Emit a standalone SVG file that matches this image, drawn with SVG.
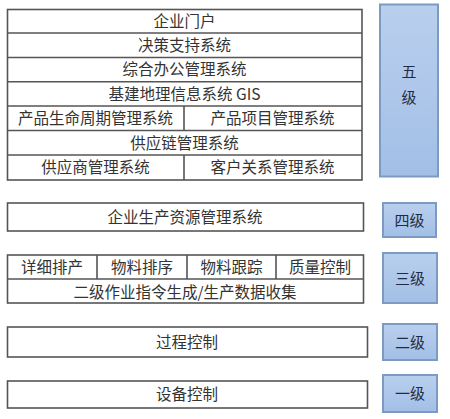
<svg xmlns="http://www.w3.org/2000/svg" width="450" height="419" viewBox="0 0 450 419">
<defs>
<linearGradient id="lv" x1="0" y1="0" x2="0" y2="1">
<stop offset="0" stop-color="#b9cfee"/>
<stop offset="1" stop-color="#a3bfe6"/>
</linearGradient>
<style>
.b{fill:#fff;stroke:#555;stroke-width:1.6}
.l{stroke:#555;stroke-width:1.6;fill:none}
.t{font-family:"Noto Sans CJK SC","Liberation Sans",sans-serif;font-size:15.5px;fill:#333;text-anchor:middle}
.lv{fill:url(#lv);stroke:#7d9ac2;stroke-width:2}
.lt{font-family:"Noto Sans CJK SC",sans-serif;font-size:15px;fill:#1f2d44;text-anchor:middle}
</style>
</defs>
<rect width="450" height="419" fill="#fff"/>
<g id="level5-systems">
<rect class="b" x="7.5" y="9.5" width="354.5" height="170.5"/>
<path class="l" d="M7.5 33H362M7.5 57.5H362M7.5 81.7H362M7.5 106H362M7.5 130.5H362M7.5 155H362M184 106V130.5M184 155V180"/>
<text class="t" x="184.5" y="27">企业门户</text>
<text class="t" x="184.5" y="51">决策支持系统</text>
<text class="t" x="184.5" y="75">综合办公管理系统</text>
<text class="t" x="184.5" y="99.5">基建地理信息系统 GIS</text>
<text class="t" x="95.5" y="124">产品生命周期管理系统</text>
<text class="t" x="272.5" y="124">产品项目管理系统</text>
<text class="t" x="184.5" y="148.5">供应链管理系统</text>
<text class="t" x="95.5" y="173">供应商管理系统</text>
<text class="t" x="272.5" y="173">客户关系管理系统</text>
</g>
<g id="level4-systems">
<rect class="b" x="7.5" y="203" width="356" height="28"/>
<text class="t" x="185" y="222.5">企业生产资源管理系统</text>
</g>
<g id="level3-systems">
<rect class="b" x="7.5" y="255" width="356" height="48"/>
<path class="l" d="M7.5 279H363.5M97 255V279M187 255V279M276 255V279"/>
<text class="t" x="52" y="273">详细排产</text>
<text class="t" x="142" y="273">物料排序</text>
<text class="t" x="231.5" y="273">物料跟踪</text>
<text class="t" x="320" y="273">质量控制</text>
<text class="t" x="185" y="297.5">二级作业指令生成/生产数据收集</text>
</g>
<g id="level2-systems">
<rect class="b" x="7.5" y="327" width="360" height="30"/>
<text class="t" x="187" y="347.5">过程控制</text>
</g>
<g id="level1-systems">
<rect class="b" x="7.5" y="381" width="360" height="27"/>
<text class="t" x="187" y="400">设备控制</text>
</g>
<g id="level5"><rect class="lv" x="380" y="4.5" width="58" height="172"/><text class="lt" x="409" y="77">五</text><text class="lt" x="409" y="103">级</text></g>
<g id="level4"><rect class="lv" x="383" y="203" width="53" height="34"/><text class="lt" x="409.5" y="225.5">四级</text></g>
<g id="level3"><rect class="lv" x="383" y="253" width="54" height="50"/><text class="lt" x="410" y="283.5">三级</text></g>
<g id="level2"><rect class="lv" x="383" y="324" width="54" height="36"/><text class="lt" x="410" y="347.5">二级</text></g>
<g id="level1"><rect class="lv" x="383" y="375" width="54" height="37"/><text class="lt" x="410" y="398.5">一级</text></g>
</svg>
